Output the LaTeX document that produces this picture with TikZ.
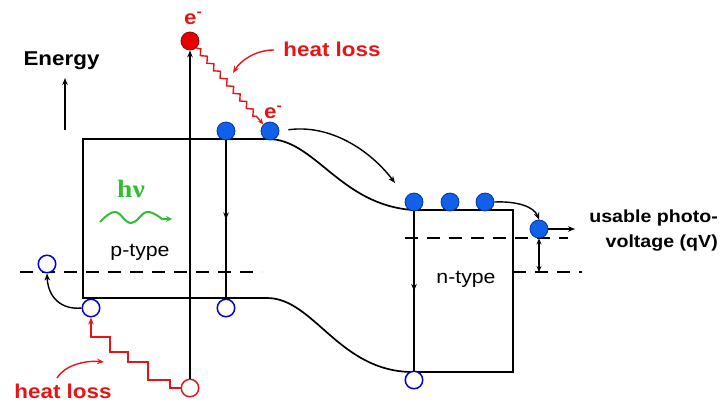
\documentclass[tikz,border=0pt]{standalone}
\usepackage{fontspec}
\setmainfont{Liberation Sans}
\newfontfamily\labfont[FakeStretch=1.12]{Liberation Sans}
\newfontfamily\hvfont[FakeStretch=1.1]{Liberation Serif}
\usetikzlibrary{arrows.meta,decorations.pathmorphing,decorations.markings}
\pgfdeclarelayer{bg}
\pgfsetlayers{bg,main}
\definecolor{dotblue}{RGB}{16,96,232}
\definecolor{dotedge}{RGB}{0,50,170}
\definecolor{holeblue}{RGB}{0,0,205}
\definecolor{heatred}{RGB}{232,20,20}
\definecolor{dotred}{RGB}{228,0,0}
\definecolor{hvgreen}{RGB}{50,190,50}
\begin{document}
\begin{tikzpicture}[x=1pt,y=-1pt,
  band/.style={line width=1.7pt, black, line join=miter},
  fermi/.style={line width=1.7pt, dash pattern=on 13pt off 9pt},
  edot/.style={circle, minimum size=18pt, inner sep=0pt, fill=dotblue, draw=dotedge, line width=0.8pt},
  reddot/.style={edot, fill=dotred, draw=red!60!black},
  hole/.style={circle, minimum size=17.5pt, inner sep=0pt, fill=white, draw=holeblue, line width=1.5pt},
  redhole/.style={hole, draw=heatred},
  vline/.style={line width=1.6pt, black},
  conn/.style={line width=1.4pt, black, -{Stealth[length=7pt,width=5.5pt]}},
  midarrow/.style={postaction={decorate, decoration={markings, mark=at position 0.5 with {\arrow{Stealth[length=7pt,width=5.5pt]}}}}},
  heatarrow/.style={line width=1.4pt, heatred, -{Stealth[length=7pt,width=5.5pt]}},
  heatzig/.style={line width=1.4pt, heatred, -{Stealth[length=6pt,width=5pt]}, decorate,
    decoration={zigzag, segment length=10pt, amplitude=2.5pt, pre length=1pt, post length=6pt}},
  lab/.style={font=\labfont\bfseries\fontsize{20}{24}\selectfont, inner sep=0pt},
  typelab/.style={font=\labfont\fontsize{19}{23}\selectfont, inner sep=0pt}
]
\useasboundingbox (0,0) rectangle (727,405);

% carriers
\node[reddot] (e1) at (190,41) {};
\node[edot] (c1) at (226,131) {};
\node[edot] (c2) at (270,131) {};
\node[edot] (n1) at (414,202) {};
\node[edot] (n2) at (450,202) {};
\node[edot] (n3) at (485,202) {};
\node[edot] (n4) at (539,229) {};
\node[hole] (h1) at (47,264) {};
\node[hole] (h2) at (91,308) {};
\node[hole] (h3) at (226,308) {};
\node[hole] (h4) at (414,380) {};
\node[redhole] (rh) at (190,388) {};

% free ends
\coordinate (en0) at (65,130);
\coordinate (en1) at (65,78);
\coordinate (a1) at (395,183);
\coordinate (vout) at (575,229);
\coordinate (qvl) at (539,272);
\coordinate (hlt0) at (274,50);
\coordinate (hlt1) at (233,73);
\coordinate (hlb0) at (57,378);
\coordinate (hlb1) at (104,362);
\coordinate (hv0) at (100,222);
\coordinate (hv1) at (172,219);

% texts
\node[lab, anchor=base] (energy) at (61.5,65) {Energy};
\node[lab, text=heatred, anchor=base] (hlt) at (332,56) {heat loss};
\node[lab, text=heatred, anchor=base] (hlb) at (63,398) {heat loss};
\node[lab, text=heatred, anchor=base west] (et) at (184,24) {e\textsuperscript{-}};
\node[lab, text=heatred, anchor=base west] (ec) at (264,118) {e\textsuperscript{-}};
\node[typelab, anchor=base] (ptype) at (140,256) {p-type};
\node[typelab, anchor=base] (ntype) at (466,283) {n-type};
\node[font=\hvfont\bfseries\fontsize{25}{28}\selectfont, text=hvgreen, inner sep=0pt, anchor=base] (hv) at (131,197) {hν};
\node[font=\labfont\bfseries\fontsize{17.5}{25}\selectfont, inner sep=0pt, align=right, anchor=base east] (qv) at (718,247) {usable photo-\\voltage (qV)};

\begin{pgfonlayer}{bg}
  \draw[band] (83,298) -- (83,139) -- (268,139)
     .. controls (315,139) and (340,205) .. (413,210) -- (513,210) -- (513,372) -- (413,372)
     .. controls (339,372) and (314,298) .. (267,298) -- cycle;
  \draw[fermi] (20,272) -- (262,272);
  \draw[fermi] (405,238) -- (568,238);
  \draw[fermi] (513,272) -- (582,272);
\end{pgfonlayer}

% transitions
\draw[vline, midarrow] (c1) -- (h3);
\draw[vline, midarrow] (n1) -- (h4);
\draw[vline, -{Stealth[length=7pt,width=5.5pt]}] (rh) -- (e1);

% connectors
\draw[conn] (en0) -- (en1);
\draw[conn, shorten <=9pt] (c2.east) .. controls (330,124) and (370,150) .. (a1);
\draw[conn] (n3.east) .. controls (518,201) and (534,207) .. (n4.north);
\draw[conn] (n4.east) -- (vout);
\draw[line width=1.4pt, {Stealth[length=6pt,width=5pt]}-{Stealth[length=6pt,width=5pt]}] (n4.south) -- (qvl);
\draw[conn] (h2.west) .. controls (62,310) and (48,298) .. (h1.south);

% heat losses
\draw[heatzig] (e1.south east) -- (c2.north west);
\draw[heatarrow] (rh.west) -- (170,388) -- (170,380) -- (148,380) -- (148,362) -- (128,362)
   -- (128,352) -- (110,352) -- (110,337) -- (91,337) -- (h2.south);
\draw[heatarrow] (hlt0) .. controls (256,50) and (241,60) .. (hlt1);
\draw[heatarrow] (hlb0) .. controls (64,366) and (84,360) .. (hlb1);

% photon
\draw[line width=2pt, hvgreen, -{Stealth[length=6pt,width=6pt]}] plot[smooth, tension=0.7] coordinates {(hv0) (115,212) (131,223) (147,212) (162,219)} -- (hv1);
\end{tikzpicture}
\end{document}
